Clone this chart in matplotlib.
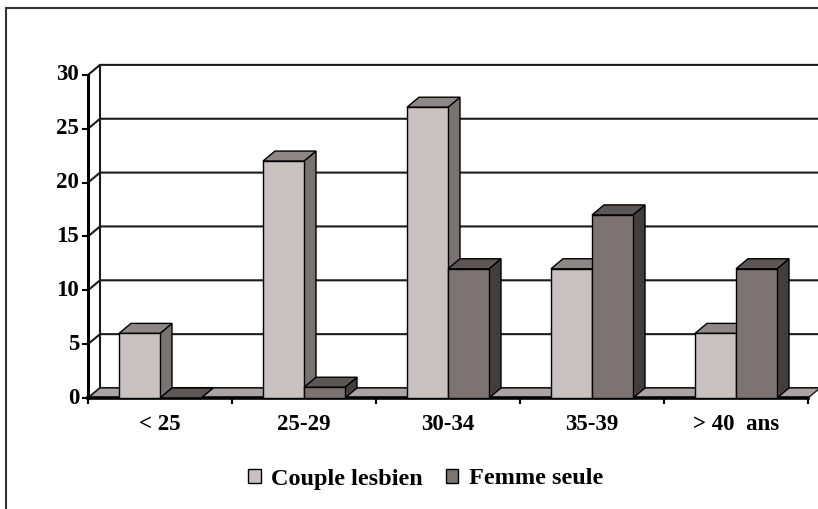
import matplotlib
matplotlib.use("Agg")
import matplotlib.pyplot as plt
from matplotlib.patches import Polygon, Patch
from matplotlib.lines import Line2D

# Data
categories = ["< 25", "25-29", "30-34", "35-39", "> 40  ans"]
couple_lesbien = [6, 22, 27, 12, 6]
femme_seule = [0, 1, 12, 17, 12]
series_names = ["Couple lesbien", "Femme seule"]
y_ticks = [0, 5, 10, 15, 20, 25, 30]

# Face colours (front, top, side) for each series
colors = {
    "Couple lesbien": ("#c8c1c0", "#8e8787", "#7a7272"),
    "Femme seule": ("#7c7372", "#5e5656", "#433d3d"),
}

W, H = 818, 509
fig = plt.figure(figsize=(W / 100, H / 100), dpi=100)
ax = fig.add_axes([0, 0, 1, 1])

# Pixel scale of the chart: one category slot and one value unit
PXX = 144.0
PXY = 10.77
X0, Y0 = 88, 398
ax.set_xlim(-X0 / PXX, (W - X0) / PXX)
ax.set_ylim(-(H - Y0) / PXY, Y0 / PXY)
ax.axis("off")

# Depth offset of the pseudo-3D walls and bars
DX = 12 / PXX
DY = 10 / PXY
ymax = y_ticks[-1]
ncat = len(categories)
right = ncat + 0.2

font = dict(family="Liberation Serif", weight="bold", size=16.5)
legend_font = dict(family="Liberation Serif", weight="bold", size=17.5)
line_col = "#1a1a1a"

# Back wall and left wall
ax.add_patch(Polygon([(DX, DY), (right, DY), (right, ymax + DY), (DX, ymax + DY)],
                     closed=True, facecolor="white", edgecolor="none", zorder=1))
ax.add_patch(Polygon([(0, 0), (DX, DY), (DX, ymax + DY), (0, ymax)],
                     closed=True, facecolor="white", edgecolor="none", zorder=1))

# Gridlines on both walls
for v in y_ticks:
    ax.plot([0, DX, right], [v, v + DY, v + DY], color=line_col, lw=1.5,
            zorder=2, solid_capstyle="butt")
ax.plot([DX, DX], [DY, ymax + DY], color=line_col, lw=1.5, zorder=2)

# Floor
ax.add_patch(Polygon([(0, 0), (ncat, 0), (ncat + DX, DY), (DX, DY)],
                     closed=True, facecolor="#aaa4a4", edgecolor=line_col,
                     lw=1.0, zorder=3))

# Value axis and category axis
ax.plot([0, 0], [0, ymax], color="black", lw=2.2, zorder=6)
ax.plot([0, ncat], [0, 0], color="black", lw=2.6, zorder=6)
for v in y_ticks:
    ax.plot([-5 / PXX, 0], [v, v], color="black", lw=1.5, zorder=6)
    ax.text(-9 / PXX, v, f"{v}", ha="right", va="center", **font)
for i in range(ncat + 1):
    ax.plot([i, i], [0, -5 / PXY], color="black", lw=1.5, zorder=6)
for i, cat in enumerate(categories):
    ax.text(i + 0.5, -27 / PXY, cat, ha="center", va="center", **font)

# Bars: front face via ax.bar, top and side faces as parallelograms
BW = 41 / PXX
for i in range(ncat):
    for k, (name, vals) in enumerate(zip(series_names, [couple_lesbien, femme_seule])):
        h = vals[i]
        x0 = i + 0.5 - BW + k * BW
        x1 = x0 + BW
        front, top, side = colors[name]
        z = 10 + 3 * k
        ax.add_patch(Polygon([(x1, 0), (x1 + DX, DY), (x1 + DX, h + DY), (x1, h)],
                             closed=True, facecolor=side, edgecolor="black",
                             lw=1.0, zorder=z))
        ax.add_patch(Polygon([(x0, h), (x1, h), (x1 + DX, h + DY), (x0 + DX, h + DY)],
                             closed=True, facecolor=top, edgecolor="black",
                             lw=1.0, zorder=z))
        ax.bar(x0, h, width=BW, bottom=0, align="edge", color=front,
               edgecolor="black", lw=1.0, zorder=z + 1)

# Legend
handles = [Patch(facecolor=colors[n][0], edgecolor="black", lw=1.0) for n in series_names]
fig.legend(handles, series_names, loc="center", bbox_to_anchor=(426 / W, 1 - 479 / H),
           ncol=2, frameon=False, prop=legend_font, handlelength=0.5, handleheight=0.5,
           handletextpad=0.45, columnspacing=0.95)

# Outer frame on the left and top
fig.add_artist(Line2D([6 / W, 6 / W], [0, 1 - 8 / H], color="#333333", lw=1.5))
fig.add_artist(Line2D([6 / W, 1], [1 - 8 / H, 1 - 8 / H], color="#333333", lw=1.5))

fig.savefig("out.png", dpi=100)
